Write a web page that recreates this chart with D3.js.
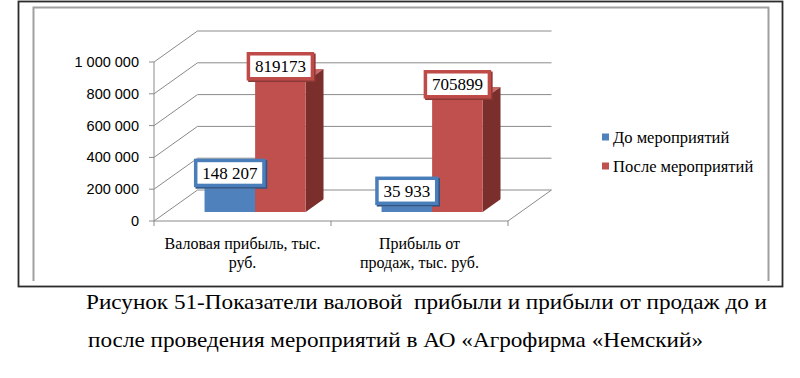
<!DOCTYPE html>
<html>
<head>
<meta charset="utf-8">
<script src="https://cdn.jsdelivr.net/npm/d3@7"></script>
</head>
<body style="margin:0">
<script>
// data
var categories = [["Валовая прибыль, тыс.", "руб."], ["Прибыль от", "продаж, тыс. руб."]];
var seriesNames = ["До мероприятий", "После мероприятий"];
var beforeValues = [148207, 35933];
var afterValues = [819173, 705899];
var beforeLabels = ["148 207", "35 933"];
var afterLabels = ["819173", "705899"];
var yTicks = [0, 200000, 400000, 600000, 800000, 1000000];
var caption = [
    "Рисунок 51-Показатели валовой  прибыли и прибыли от продаж до и",
    "после проведения мероприятий в АО «Агрофирма «Немский»"
];

var SERIF = "'Liberation Serif', 'Times New Roman', Tinos, FreeSerif";
var SANS = "'Liberation Sans'";

var colors = {
    front: ["#4f81bd", "#c0504d"],
    side: ["#385d8a", "#7b2f2d"],
    top: ["#6b95c8", "#c96966"],
    border: ["#4a7ebb", "#be4b48"],
    shadow: ["#2f5482", "#8c3836"]
};

var width = 800, height = 378;

var svg = d3.select("body").append("svg")
    .attr("width", width)
    .attr("height", height)
    .style("display", "block");

svg.append("rect").attr("width", width).attr("height", height).attr("fill", "#fff");

// frames
svg.append("rect")
    .attr("x", 18.5).attr("y", 1.5)
    .attr("width", 764).attr("height", 285)
    .attr("fill", "none")
    .attr("stroke", "#2b2b2b")
    .attr("stroke-width", 1.8);

svg.append("path")
    .attr("d", "M33.5,281 V7.5 H768.5 V281")
    .attr("fill", "none")
    .attr("stroke", "#a0a0a0")
    .attr("stroke-width", 2);

var y = d3.scaleLinear().domain([0, 1000000]).range([221, 62]);
var x0 = d3.scaleBand().domain(d3.range(categories.length)).range([154, 508]);
var x1 = d3.scaleBand().domain(seriesNames).range([0, x0.bandwidth()]).paddingOuter(0.75);

var depth = { x: 43.5, y: -31 };
var f0 = 0.29, f1 = 0.70;

var gridColor = "#8a8a8a";
var walls = svg.append("g").attr("fill", "none").attr("stroke", gridColor).attr("stroke-width", 1);

// back wall gridlines + left wall diagonals
yTicks.forEach(function(t) {
    walls.append("line")
        .attr("x1", 154).attr("y1", y(t))
        .attr("x2", 154 + depth.x).attr("y2", y(t) + depth.y);
    walls.append("line")
        .attr("x1", 154 + depth.x).attr("y1", y(t) + depth.y)
        .attr("x2", 508 + depth.x).attr("y2", y(t) + depth.y);
});

// floor
walls.append("line").attr("x1", 154).attr("y1", y(0)).attr("x2", 508).attr("y2", y(0));
walls.append("line").attr("x1", 508).attr("y1", y(0)).attr("x2", 508 + depth.x).attr("y2", y(0) + depth.y);

// y axis
walls.append("line").attr("x1", 154).attr("y1", y(0)).attr("x2", 154).attr("y2", y(1000000));
yTicks.forEach(function(t) {
    walls.append("line").attr("x1", 149).attr("y1", y(t)).attr("x2", 154).attr("y2", y(t));
});
// category ticks
[154, 331, 508].forEach(function(x) {
    walls.append("line").attr("x1", x).attr("y1", y(0)).attr("x2", x).attr("y2", y(0) + 5);
});

var fmt = function(v) { return d3.format(",")(v).replace(/,/g, " "); };

svg.append("g").selectAll("text")
    .data(yTicks)
    .join("text")
    .attr("x", 139)
    .attr("y", function(d) { return y(d) + 5; })
    .attr("text-anchor", "end")
    .style("font-family", SANS)
    .style("font-size", "14.5px")
    .attr("fill", "#000")
    .text(fmt);

// category labels
categories.forEach(function(lines, i) {
    lines.forEach(function(line, j) {
        svg.append("text")
            .attr("x", x0(i) + x0.bandwidth() / 2)
            .attr("y", 249 + j * 19)
            .attr("text-anchor", "middle")
            .style("font-family", SERIF)
            .style("font-size", "16px")
            .attr("fill", "#000")
            .text(line);
    });
});

// bars
var bars = [];
categories.forEach(function(c, i) {
    [beforeValues, afterValues].forEach(function(vals, s) {
        bars.push({ cat: i, s: s, value: vals[i], label: (s === 0 ? beforeLabels : afterLabels)[i] });
    });
});

var dx = depth.x * (f1 - f0), dy = depth.y * (f1 - f0);
var barG = svg.append("g");

bars.forEach(function(b) {
    var xl = x0(b.cat) + x1(seriesNames[b.s]) + depth.x * f0;
    var xr = xl + x1.bandwidth();
    var bottom = y(0) + depth.y * f0;
    var top = y(b.value) + depth.y * f0;
    b.cx = (xl + xr) / 2;
    b.top = top;

    barG.append("path")
        .attr("d", "M" + xl + "," + top + "L" + xr + "," + top + "L" + (xr + dx) + "," + (top + dy) + "L" + (xl + dx) + "," + (top + dy) + "Z")
        .attr("fill", colors.top[b.s]);
    barG.append("path")
        .attr("d", "M" + xr + "," + top + "L" + (xr + dx) + "," + (top + dy) + "L" + (xr + dx) + "," + (bottom + dy) + "L" + xr + "," + bottom + "Z")
        .attr("fill", colors.side[b.s]);
    barG.append("rect")
        .attr("x", xl).attr("y", top)
        .attr("width", x1.bandwidth()).attr("height", bottom - top)
        .attr("fill", colors.front[b.s]);
});

// data labels (Times digits are 0.5em, spaces 0.25em)
var labelSize = 17;
var labelG = svg.append("g");
bars.forEach(function(b) {
    var g = labelG.append("g");
    var digits = b.label.replace(/ /g, "").length;
    var spaces = b.label.length - digits;
    var tw = labelSize * (digits * 0.5 + spaces * 0.25);
    var bw = tw + 13, bh = 25;
    var by = b.top - 3 - bh;
    g.append("rect")
        .attr("x", b.cx - bw / 2 + 1.5).attr("y", by + 1.5)
        .attr("width", bw).attr("height", bh)
        .attr("fill", "none")
        .attr("stroke", colors.shadow[b.s])
        .attr("stroke-width", 3.5);
    g.append("rect")
        .attr("x", b.cx - bw / 2).attr("y", by)
        .attr("width", bw).attr("height", bh)
        .attr("fill", "#fff")
        .attr("stroke", colors.border[b.s])
        .attr("stroke-width", 3.5);
    g.append("text")
        .attr("x", b.cx)
        .attr("y", by + bh / 2 + 6)
        .style("font-family", SERIF)
        .style("font-size", labelSize + "px")
        .attr("text-anchor", "middle")
        .attr("fill", "#000")
        .text(b.label);
});

// legend
seriesNames.forEach(function(name, i) {
    svg.append("rect")
        .attr("x", 602).attr("y", 133.5 + i * 29)
        .attr("width", 7).attr("height", 7)
        .attr("fill", colors.front[i]);
    svg.append("text")
        .attr("x", 613).attr("y", 143 + i * 29)
        .style("font-family", SERIF)
        .style("font-size", "16.5px")
        .attr("fill", "#000")
        .text(name);
});

// caption
svg.append("text").attr("x", 86).attr("y", 309)
    .style("font-family", SERIF)
    .style("font-size", "22px")
    .style("white-space", "pre")
    .attr("textLength", 681).attr("lengthAdjust", "spacingAndGlyphs")
    .attr("fill", "#000")
    .text(caption[0]);
svg.append("text").attr("x", 88).attr("y", 347)
    .style("font-family", SERIF)
    .style("font-size", "22px")
    .attr("textLength", 615).attr("lengthAdjust", "spacingAndGlyphs")
    .attr("fill", "#000")
    .text(caption[1]);
</script>
</body>
</html>
